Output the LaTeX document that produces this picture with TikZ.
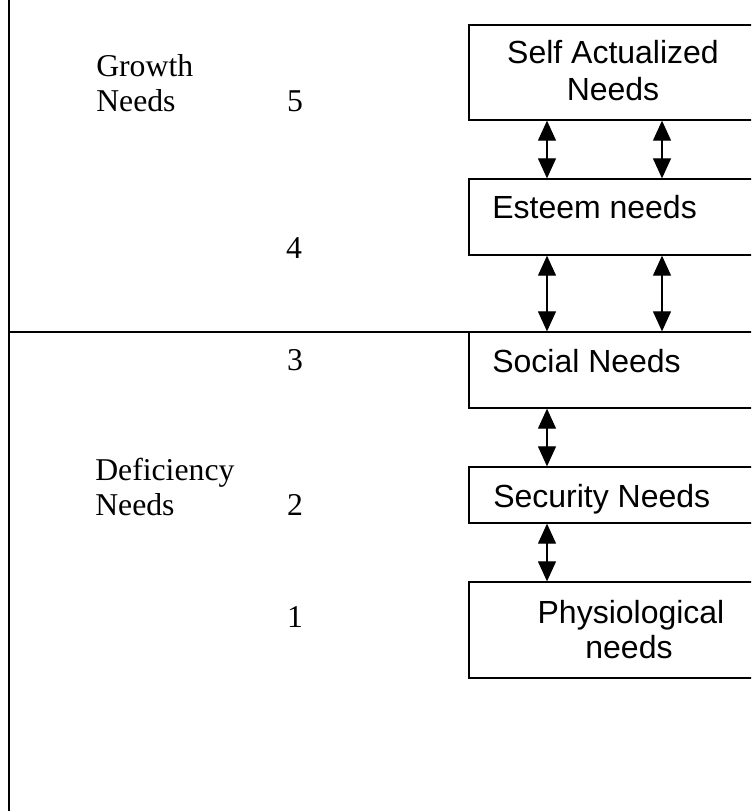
\documentclass[tikz,border=0pt]{standalone}
\usepackage{fontspec}
\setmainfont{Liberation Serif}
\newfontfamily\arialfont{Liberation Sans}
\usetikzlibrary{arrows.meta}
\tikzset{
  needbox/.style={draw, line width=1.2pt, inner sep=0pt, outer sep=0pt, anchor=north west, minimum width=248.25pt},
  boxtxt/.style={font=\arialfont\fontsize{24pt}{28pt}\selectfont, inner sep=0pt},
  sidetxt/.style={font=\fontsize{23.8pt}{28pt}\selectfont, inner sep=0pt},
  dbl/.style={{Triangle[width=13.5pt,length=15pt]}-{Triangle[width=13.5pt,length=15pt]}, line width=0.9pt, shorten <=0.5pt, shorten >=0.5pt},
  rule/.style={line width=1.4pt}
}
\begin{document}
\begin{tikzpicture}[x=0.75pt,y=-0.75pt]
\useasboundingbox (0,0) rectangle (751,811);
\clip (0,0) rectangle (751,811);
% boxes
\node[needbox, minimum height=71.25pt] (sa) at (469,25) {};
\node[needbox, minimum height=57pt] (es) at (469,179) {};
\node[needbox, minimum height=57pt] (so) at (469,332) {};
\node[needbox, minimum height=42pt] (se) at (469,467) {};
\node[needbox, minimum height=72pt] (ph) at (469,582) {};
% box texts
\node[boxtxt, anchor=base] (t1a) at (613,63) {Self Actualized};
\node[boxtxt, anchor=base] (t1b) at (613,100) {Needs};
\node[boxtxt, anchor=base west] (t2) at (492,218) {Esteem needs};
\node[boxtxt, anchor=base west] (t3) at (492,372) {Social Needs};
\node[boxtxt, anchor=base west] (t4) at (493,507) {Security Needs};
\node[boxtxt, anchor=base] (t5a) at (631,623) {Physiological};
\node[boxtxt, anchor=base] (t5b) at (629,658) {needs};
% side texts
\node[sidetxt, anchor=base west] (g1) at (96,76) {Growth};
\node[sidetxt, anchor=base west] (g2) at (96,111) {Needs};
\node[sidetxt, anchor=base west] (d1) at (95,480) {Deficiency};
\node[sidetxt, anchor=base west] (d2) at (95,515) {Needs};
\node[sidetxt, anchor=base] (n5) at (295,111) {5};
\node[sidetxt, anchor=base] (n4) at (294,258) {4};
\node[sidetxt, anchor=base] (n3) at (295,370) {3};
\node[sidetxt, anchor=base] (n2) at (295,515) {2};
\node[sidetxt, anchor=base] (n1) at (295,627) {1};
% rules
\coordinate (vtop) at (9,0);
\coordinate (vbot) at (9,811);
\coordinate (hl) at (9,332);
\draw[rule] (vtop) -- (vbot);
\draw[rule] (hl) -- (so.north west);
% arrows
\coordinate (c1) at (547,0);
\coordinate (c2) at (662,0);
\draw[dbl] (sa.south -| c1) -- (es.north -| c1);
\draw[dbl] (sa.south -| c2) -- (es.north -| c2);
\draw[dbl] (es.south -| c1) -- (so.north -| c1);
\draw[dbl] (es.south -| c2) -- (so.north -| c2);
\draw[dbl] (so.south -| c1) -- (se.north -| c1);
\draw[dbl] (se.south -| c1) -- (ph.north -| c1);
\end{tikzpicture}
\end{document}
